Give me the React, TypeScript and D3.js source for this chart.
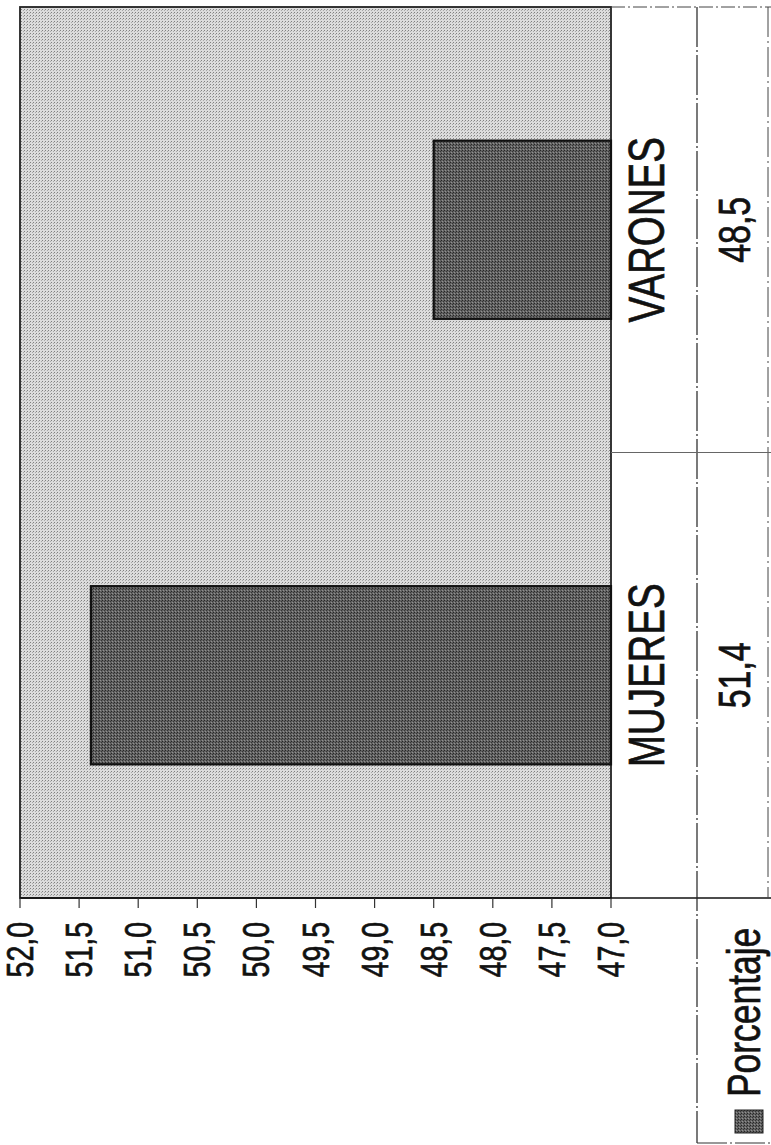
import React from "react";
import * as d3 from "d3";

const categories = ["MUJERES", "VARONES"];
const porcentaje = [51.4, 48.5];
const seriesName = "Porcentaje";
const valueDomain = [47, 52];
const tickStep = 0.5;

const W = 771;
const H = 1145;
const plot = { left: 20, right: 611, top: 7, bottom: 898 };
const tableMid = 697;
const tableRight = 768;
const legendBottom = 1143;
const FONT = "'Liberation Sans', Arial, sans-serif";
const CONDENSE = 0.77;

const locale = d3.formatLocale({ decimal: ",", thousands: ".", grouping: [3], currency: ["", "€"] });
const fmt = locale.format(".1f");

export default function App() {
  const x = d3.scaleLinear().domain(valueDomain).range([plot.right, plot.left]);
  // categories run bottom-to-top (chart is rotated)
  const y = d3
    .scaleBand<string>()
    .domain([...categories].reverse())
    .range([plot.top, plot.bottom])
    .paddingInner(0.6)
    .paddingOuter(0.3);
  const yCell = d3.scaleBand<string>().domain([...categories].reverse()).range([plot.top, plot.bottom]);

  const ticks = d3.range(valueDomain[0], valueDomain[1] + tickStep / 2, tickStep);

  const rot = (tx: number, ty: number) => `translate(${tx},${ty}) rotate(-90) scale(${CONDENSE},1)`;
  const txt = { fill: "#111", stroke: "#111", strokeWidth: 0.7 };

  return (
    <svg
      width={W}
      height={H}
      viewBox={`0 0 ${W} ${H}`}
      style={{ position: "absolute", left: 0, top: 0, background: "#fff" }}
      fontFamily={FONT}
    >
      <defs>
        <pattern id="bgPat" width="3" height="3" patternUnits="userSpaceOnUse">
          <rect width="3" height="3" fill="#dcdcdc" />
          <rect x="0" y="0" width="1" height="1" fill="#808080" />
          <rect x="2" y="1" width="1" height="1" fill="#a8a8a8" />
        </pattern>
        <pattern id="barPat" width="3" height="3" patternUnits="userSpaceOnUse">
          <rect width="3" height="3" fill="#626262" />
          <rect x="0" y="0" width="1" height="1" fill="#262626" />
          <rect x="1" y="2" width="1" height="1" fill="#909090" />
          <rect x="2" y="1" width="1" height="1" fill="#363636" />
        </pattern>
      </defs>

      {/* plot area */}
      <rect
        x={plot.left}
        y={plot.top}
        width={plot.right - plot.left}
        height={plot.bottom - plot.top}
        fill="url(#bgPat)"
        stroke="#222"
        strokeWidth={1.8}
      />

      {/* bars */}
      {categories.map((c, i) => (
        <rect
          key={c}
          x={x(porcentaje[i])}
          y={y(c)}
          width={x(valueDomain[0]) - x(porcentaje[i])}
          height={y.bandwidth()}
          fill="url(#barPat)"
          stroke="#111"
          strokeWidth={2.2}
        />
      ))}

      {/* value axis */}
      <line x1={plot.left} x2={W} y1={plot.bottom} y2={plot.bottom} stroke="#111" strokeWidth={1.5} />
      {ticks.map((t) => (
        <g key={t}>
          <line x1={x(t)} x2={x(t)} y1={plot.bottom} y2={plot.bottom + 10} stroke="#333" strokeWidth={1.2} />
          <text transform={rot(x(t) + 13, 922)} textAnchor="end" fontSize={37} {...txt}>
            {fmt(t)}
          </text>
        </g>
      ))}

      {/* data table lines */}
      <line x1={plot.right} x2={W} y1={plot.top} y2={plot.top} stroke="#444" strokeWidth={1} strokeDasharray="14 3 2 3" />
      <line x1={tableMid} x2={tableMid} y1={plot.top} y2={legendBottom} stroke="#222" strokeWidth={1.2} strokeDasharray="40 3 2 3" />
      <line x1={tableRight} x2={tableRight} y1={plot.top} y2={plot.bottom} stroke="#444" strokeWidth={1} strokeDasharray="30 4 2 4" />
      {categories.slice(1).map((c) => (
        <line key={c} x1={plot.right} x2={W} y1={yCell(c)! + yCell.bandwidth()} y2={yCell(c)! + yCell.bandwidth()} stroke="#666" strokeWidth={1.2} />
      ))}
      <line x1={tableMid} x2={W} y1={legendBottom} y2={legendBottom} stroke="#333" strokeWidth={1.2} strokeDasharray="30 3 2 3" />

      {/* category labels and values */}
      {categories.map((c, i) => {
        const cy = yCell(c)! + yCell.bandwidth() / 2;
        return (
          <g key={c}>
            <text transform={rot(664, cy)} textAnchor="middle" fontSize={50} {...txt}>
              {c}
            </text>
            <text transform={rot(750, cy)} textAnchor="middle" fontSize={44} {...txt}>
              {fmt(porcentaje[i])}
            </text>
          </g>
        );
      })}

      {/* legend key */}
      <rect x={735} y={1110} width={28} height={23} fill="url(#barPat)" stroke="#222" strokeWidth={1} />
      <text transform={rot(760, 1097)} textAnchor="start" fontSize={46} {...txt}>
        {seriesName}
      </text>
    </svg>
  );
}
